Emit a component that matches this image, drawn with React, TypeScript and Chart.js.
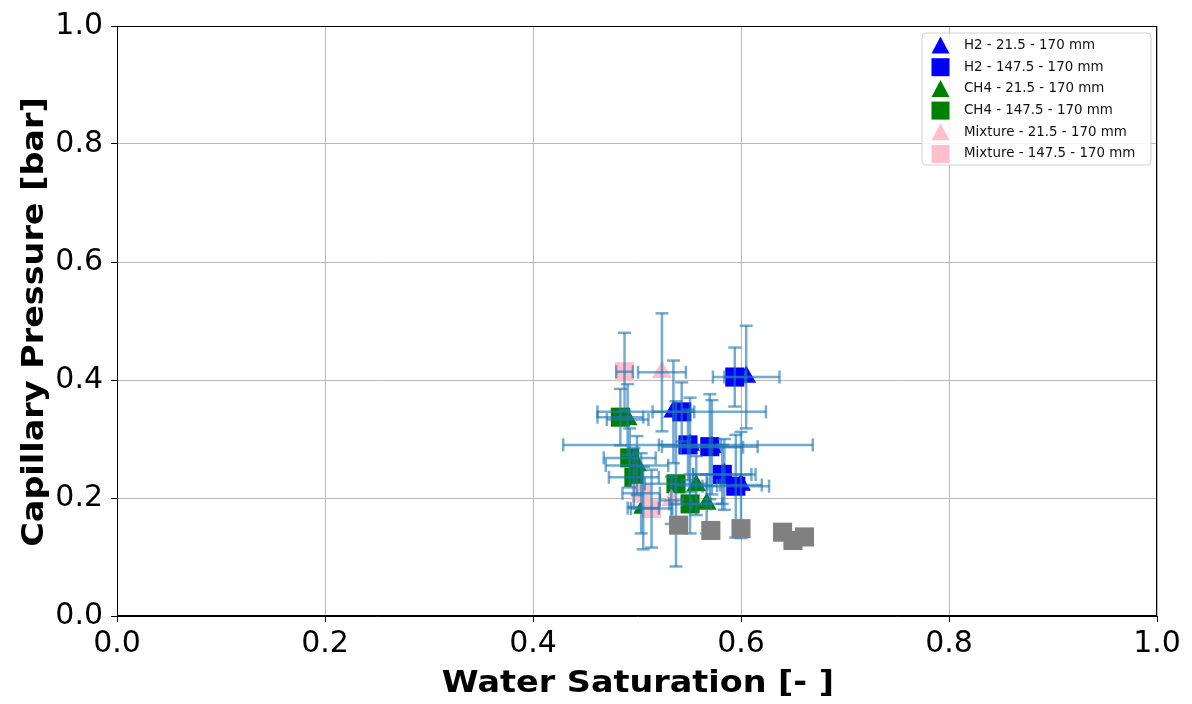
import React, { useEffect, useRef } from 'react';
import { Chart, registerables } from 'chart.js';

Chart.register(...registerables);

// Axis ticks
const X_TICKS = [0, 0.2, 0.4, 0.6, 0.8, 1.0];
const Y_TICKS = [0, 0.2, 0.4, 0.6, 0.8, 1.0];
const X_TITLE = 'Water Saturation [- ]';
const Y_TITLE = 'Capillary Pressure [bar]';

// Each row: [water saturation, capillary pressure (bar), x error, y error]
const H2_TRI = [
  [0.605, 0.405, 0.032, 0.087],
  [0.535, 0.346, 0.02, 0.087],
  [0.551, 0.29, 0.03, 0.08],
  [0.572, 0.286, 0.03, 0.08],
  [0.584, 0.24, 0.03, 0.06],
  [0.6, 0.222, 0.02, 0.09],
];
const H2_SQ = [
  [0.594, 0.405, 0.01, 0.05],
  [0.543, 0.346, 0.081, 0.05],
  [0.549, 0.29, 0.12, 0.06],
  [0.57, 0.287, 0.046, 0.089],
  [0.582, 0.24, 0.028, 0.05],
  [0.595, 0.22, 0.032, 0.087],
];
const CH4_TRI = [
  [0.491, 0.333, 0.02, 0.06],
  [0.5, 0.255, 0.03, 0.05],
  [0.506, 0.183, 0.015, 0.07],
  [0.557, 0.221, 0.02, 0.05],
  [0.567, 0.19, 0.015, 0.05],
];
const CH4_SQ = [
  [0.484, 0.337, 0.022, 0.048],
  [0.493, 0.268, 0.025, 0.05],
  [0.497, 0.235, 0.024, 0.05],
  [0.5375, 0.224, 0.03, 0.14],
  [0.551, 0.19, 0.02, 0.05],
];
const MIX_TRI = [
  [0.524, 0.413, 0.023, 0.1],
  [0.533, 0.196, 0.011, 0.04],
];
const MIX_SQ = [
  [0.488, 0.414, 0.008, 0.066],
  [0.504, 0.208, 0.018, 0.068],
  [0.514, 0.182, 0.02, 0.066],
];
const GREY_SQ = [
  [0.54, 0.154],
  [0.571, 0.145],
  [0.6, 0.148],
  [0.64, 0.142],
  [0.65, 0.128],
  [0.661, 0.134],
];

const SERIES_LABELS = [
  'H2 - 21.5 - 170 mm',
  'H2 - 147.5 - 170 mm',
  'CH4 - 21.5 - 170 mm',
  'CH4 - 147.5 - 170 mm',
  'Mixture - 21.5 - 170 mm',
  'Mixture - 147.5 - 170 mm',
];
const SERIES_COLORS = ['#0000ff', '#0000ff', '#008000', '#008000', '#ffc0cb', '#ffc0cb'];
const SERIES_STYLES = ['triangle', 'rect', 'triangle', 'rect', 'triangle', 'rect'];
const SERIES_DATA = [H2_TRI, H2_SQ, CH4_TRI, CH4_SQ, MIX_TRI, MIX_SQ];

const FONT = "'DejaVu Sans', sans-serif";

const errorBarPlugin = {
  id: 'errorBars',
  beforeDatasetDraw(chart: any, args: any) {
    const ds = chart.data.datasets[args.index];
    if (!ds || !ds.isGrey) return;
    const { ctx, chartArea } = chart;
    const xs = chart.scales.x;
    const ys = chart.scales.y;
    const cap = 6.5;
    ctx.save();
    ctx.beginPath();
    ctx.rect(chartArea.left, chartArea.top, chartArea.right - chartArea.left, chartArea.bottom - chartArea.top);
    ctx.clip();
    ctx.strokeStyle = 'rgba(31,119,180,0.62)';
    ctx.lineWidth = 2.5;
    const seg = (x1: number, y1: number, x2: number, y2: number) => {
      ctx.beginPath();
      ctx.moveTo(x1, y1);
      ctx.lineTo(x2, y2);
      ctx.stroke();
    };
    chart.data.datasets.forEach((d: any) => {
      if (!d.errors) return;
      d.data.forEach((p: any, i: number) => {
        const [xe, ye] = d.errors[i];
        const px = xs.getPixelForValue(p.x);
        const py = ys.getPixelForValue(p.y);
        const xl = xs.getPixelForValue(p.x - xe);
        const xr = xs.getPixelForValue(p.x + xe);
        const yt = ys.getPixelForValue(p.y + ye);
        const yb = ys.getPixelForValue(p.y - ye);
        seg(xl, py, xr, py);
        seg(px, yt, px, yb);
        seg(xl, py - cap, xl, py + cap);
        seg(xr, py - cap, xr, py + cap);
        seg(px - cap, yt, px + cap, yt);
        seg(px - cap, yb, px + cap, yb);
      });
    });
    ctx.restore();
  },
};

const framePlugin = {
  id: 'frameAndLegend',
  afterDraw(chart: any) {
    const { ctx, chartArea } = chart;
    ctx.save();
    ctx.strokeStyle = '#000';
    ctx.lineWidth = 1;
    ctx.strokeRect(
      Math.round(chartArea.left) + 0.5,
      Math.round(chartArea.top) + 0.5,
      Math.round(chartArea.right - chartArea.left) - 1,
      Math.round(chartArea.bottom - chartArea.top) - 1
    );

    // axis titles (bold, slightly widened like the reference)
    const stretch = 1.114;
    ctx.fillStyle = '#000';
    ctx.font = `bold 30px ${FONT}`;
    ctx.textAlign = 'center';
    ctx.textBaseline = 'alphabetic';
    const cx = (chartArea.left + chartArea.right) / 2 + 1;
    ctx.save();
    ctx.translate(cx, chartArea.bottom + 76);
    ctx.scale(stretch, 1);
    ctx.fillText(X_TITLE, 0, 0);
    ctx.restore();
    const cy = (chartArea.top + chartArea.bottom) / 2 + 1;
    ctx.save();
    ctx.translate(chartArea.left - 74, cy);
    ctx.rotate(-Math.PI / 2);
    ctx.scale(stretch, 1);
    ctx.fillText(Y_TITLE, 0, 0);
    ctx.restore();

    // legend box
    const w = 229;
    const h = 132;
    const right = chartArea.right - 6;
    const top = chartArea.top + 7;
    const left = right - w;
    const r = 4;
    ctx.beginPath();
    ctx.moveTo(left + r, top);
    ctx.lineTo(left + w - r, top);
    ctx.quadraticCurveTo(left + w, top, left + w, top + r);
    ctx.lineTo(left + w, top + h - r);
    ctx.quadraticCurveTo(left + w, top + h, left + w - r, top + h);
    ctx.lineTo(left + r, top + h);
    ctx.quadraticCurveTo(left, top + h, left, top + h - r);
    ctx.lineTo(left, top + r);
    ctx.quadraticCurveTo(left, top, left + r, top);
    ctx.closePath();
    ctx.fillStyle = 'rgba(255,255,255,0.85)';
    ctx.fill();
    ctx.strokeStyle = '#d0d0d0';
    ctx.stroke();

    const datasets = chart.data.datasets.filter((d: any) => !d.isGrey);
    datasets.forEach((d: any, i: number) => {
      const ly = top + 12.5 + i * 21.7;
      const lx = left + 18.5;
      ctx.fillStyle = d.backgroundColor;
      ctx.beginPath();
      if (d.pointStyle === 'triangle') {
        ctx.moveTo(lx, ly - 9);
        ctx.lineTo(lx + 9, ly + 8);
        ctx.lineTo(lx - 9, ly + 8);
        ctx.closePath();
      } else {
        ctx.rect(lx - 9, ly - 9, 18, 18);
      }
      ctx.fill();
      ctx.fillStyle = '#111';
      ctx.font = `13.4px ${FONT}`;
      ctx.textBaseline = 'middle';
      ctx.textAlign = 'left';
      ctx.fillText(d.label, left + 42, ly);
    });
    ctx.restore();
  },
};

export default function App() {
  const canvasRef = useRef<HTMLCanvasElement | null>(null);

  useEffect(() => {
    const canvas = canvasRef.current;
    if (!canvas) return;

    const datasets: any[] = SERIES_DATA.map((pts, i) => ({
      label: SERIES_LABELS[i],
      data: pts.map((p) => ({ x: p[0], y: p[1] })),
      errors: pts.map((p) => [p[2], p[3]]),
      pointStyle: SERIES_STYLES[i],
      pointRadius: SERIES_STYLES[i] === 'rect' ? 13.5 : 11.5,
      pointHoverRadius: SERIES_STYLES[i] === 'rect' ? 13.5 : 11.5,
      backgroundColor: SERIES_COLORS[i],
      borderColor: SERIES_COLORS[i],
      pointBorderWidth: 0,
      showLine: false,
      order: 10 - i,
    }));
    datasets.push({
      label: 'grey',
      isGrey: true,
      data: GREY_SQ.map((p) => ({ x: p[0], y: p[1] })),
      pointStyle: 'rect',
      pointRadius: 13.5,
      pointHoverRadius: 13.5,
      backgroundColor: '#808080',
      borderColor: '#808080',
      pointBorderWidth: 0,
      showLine: false,
      order: 1,
    });

    const tickFont = { family: FONT, size: 30 };

    const chart = new Chart(canvas, {
      type: 'scatter',
      data: { datasets },
      options: {
        responsive: false,
        animation: false,
        events: [],
        layout: { padding: { left: 0, right: 35, top: 24, bottom: 0 } },
        plugins: {
          legend: { display: false },
          tooltip: { enabled: false },
        },
        scales: {
          x: {
            type: 'linear',
            min: 0,
            max: 1,
            afterBuildTicks: (s: any) => {
              s.ticks = X_TICKS.map((v) => ({ value: v }));
            },
            afterFit: (s: any) => {
              s.height = 88;
            },
            ticks: {
              callback: (v: any) => Number(v).toFixed(1),
              font: tickFont,
              color: '#000',
              padding: 4,
              maxRotation: 0,
              autoSkip: false,
            },
            grid: { color: '#b8b8b8', lineWidth: 1, tickColor: '#000', tickLength: 6, tickWidth: 1 },
            border: { color: '#000', width: 1 },
          },
          y: {
            type: 'linear',
            min: 0,
            max: 1,
            afterBuildTicks: (s: any) => {
              s.ticks = Y_TICKS.map((v) => ({ value: v }));
            },
            afterFit: (s: any) => {
              s.width = 117;
            },
            ticks: {
              callback: (v: any) => Number(v).toFixed(1),
              font: tickFont,
              color: '#000',
              padding: 8,
              autoSkip: false,
            },
            grid: { color: '#b8b8b8', lineWidth: 1, tickColor: '#000', tickLength: 6, tickWidth: 1 },
            border: { color: '#000', width: 1 },
          },
        },
      },
      plugins: [errorBarPlugin, framePlugin],
    } as any);

    return () => {
      chart.destroy();
    };
  }, []);

  return (
    <div style={{ position: 'fixed', left: 0, top: 0, width: 1192, height: 704, background: '#fff' }}>
      <canvas ref={canvasRef} width={1192} height={704} style={{ display: 'block', width: 1192, height: 704 }} />
    </div>
  );
}
